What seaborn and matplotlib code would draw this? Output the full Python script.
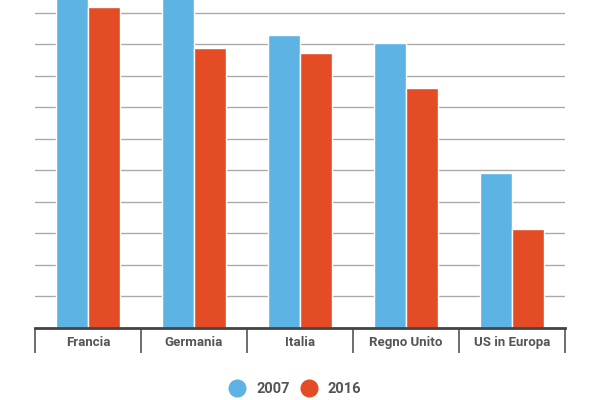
import pandas as pd
import matplotlib.pyplot as plt
import seaborn as sns
from matplotlib.lines import Line2D

paesi = ["Francia", "Germania", "Italia", "Regno Unito", "US in Europa"]
val_2007 = [11.6, 11.2, 9.30, 9.03, 4.91]
val_2016 = [10.19, 8.87, 8.73, 7.62, 3.13]
anni = ["2007", "2016"]
colori = {"2007": "#5DB3E4", "2016": "#E34C24"}

df = pd.DataFrame({
    "paese": paesi * 2,
    "anno": [anni[0]] * len(paesi) + [anni[1]] * len(paesi),
    "valore": val_2007 + val_2016,
})

sns.set_style("white")
plt.rcParams["font.family"] = ["Roboto", "DejaVu Sans"]

fig = plt.figure(figsize=(6, 4), dpi=100)
ax = fig.add_axes([35 / 600, 72.5 / 400, 530 / 600, 327.5 / 400])

sns.barplot(data=df, x="paese", y="valore", hue="anno", palette=colori,
            width=0.62, gap=0.03, saturation=1, legend=False, ax=ax, zorder=3)

ax.set_ylim(0, 10.41)
ax.set_xlim(-0.5, 4.5)
ax.set_yticks(range(0, 11))
ax.set_yticklabels([])
ax.tick_params(axis="y", length=0)
ax.grid(True, axis="y", color="#aaaaaa", linewidth=1)
ax.set_axisbelow(True)

for s in ["top", "right", "left"]:
    ax.spines[s].set_visible(False)
ax.spines["bottom"].set_color("#444444")
ax.spines["bottom"].set_linewidth(2)
ax.spines["bottom"].set_zorder(4)

# separatori tra le categorie
ax.set_xticks([i - 0.5 for i in range(6)], minor=True)
ax.tick_params(axis="x", which="minor", bottom=True, length=18, width=1.2,
               color="#555555", direction="out")
ax.tick_params(axis="x", which="major", bottom=False, length=0, pad=6,
               labelsize=9.5, labelcolor="#555555")
for t in ax.get_xticklabels():
    t.set_fontweight("bold")
ax.set_xlabel("")
ax.set_ylabel("")

handles = [Line2D([], [], marker="o", linestyle="", markersize=12,
                  markerfacecolor=colori[a], markeredgecolor=colori[a]) for a in anni]
leg = fig.legend(handles, anni, loc="center", bbox_to_anchor=(0.489, 11 / 400), ncol=2,
                 frameon=False, handlelength=1.6, handletextpad=0.5, columnspacing=0.5,
                 prop={"size": 10.5, "weight": "bold"})
for t in leg.get_texts():
    t.set_color("#555555")

fig.savefig("out.png", dpi=100)
